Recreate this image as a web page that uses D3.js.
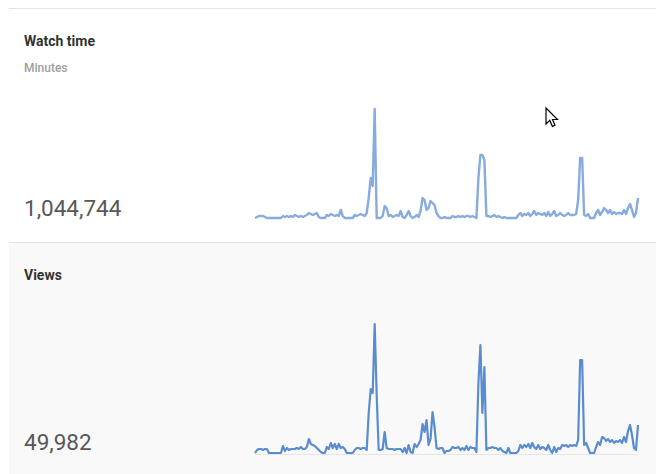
<!DOCTYPE html>
<html>
<head>
<meta charset="utf-8">
<script src="https://cdn.jsdelivr.net/npm/d3@7/dist/d3.min.js"></script>
<style>
  html, body { margin: 0; padding: 0; background: #fff; }
  svg { display: block; }
  text { font-family: Roboto, "Noto Sans", Arial, sans-serif; }
</style>
</head>
<body>
<svg id="chart" width="656" height="474"></svg>
<script>
// ---- Data (daily values; relative units) ----
const watchTimeTitle = "Watch time";
const watchTimeUnit = "Minutes";
const watchTimeTotal = "1,044,744";
const watchTimeDaily = [
  0,1,2,2,2,1,0,0,0,0,0,0,0,0,2,1,2,1,2,1,
  3,2,1,2,1,2,3,5,4,3,4,5,1,0,0,0,3,2,4,3,
  2,3,2,8,2,0,0,0,0,0,3,2,3,4,3,2,5,20,40,32,
  109,0,0,0,2,12,10,2,3,1,2,3,2,7,1,0,3,7,2,0,
  1,3,1,7,20,18,8,10,17,15,13,5,2,0,0,1,0,0,0,2,
  1,1,2,1,2,1,2,2,1,2,1,0,40,63,63,58,2,2,1,2,
  3,1,2,1,0,1,0,0,0,0,0,0,3,5,2,4,3,5,2,4,
  7,3,5,4,3,5,2,6,2,4,7,2,3,5,3,2,3,5,3,3,
  3,4,18,60,60,3,2,4,0,0,0,5,8,3,6,10,8,5,8,4,
  6,4,5,5,4,8,4,10,14,8,1,5,20
];

const viewsTitle = "Views";
const viewsTotal = "49,982";
const viewsDaily = [
  0,3,4,4,3,4,4,0,0,0,0,0,0,0,7,2,5,3,4,4,
  4,5,4,6,4,4,6,14,9,8,7,5,3,1,0,0,6,4,10,5,
  9,4,9,5,6,4,0,0,0,0,3,5,5,4,5,5,3,40,64,60,
  129,58,3,3,4,21,5,4,4,4,3,4,4,4,1,5,0,8,1,0,
  9,6,9,13,29,21,33,8,14,41,26,5,4,5,5,0,2,2,3,6,
  5,5,6,3,5,3,7,3,6,5,5,1,70,108,40,86,3,5,5,6,
  5,5,3,5,2,1,0,5,0,0,0,0,2,8,5,8,6,9,5,10,
  6,4,8,4,6,5,3,8,3,0,6,1,5,4,8,7,8,6,8,7,
  8,7,13,93,93,8,10,5,0,0,0,6,11,8,16,15,12,14,11,13,
  10,12,11,13,10,16,11,22,28,18,5,3,28
];

// ---- Drawing ----
const svg = d3.select("#chart");

// background panels
svg.append("rect").attr("x", 0).attr("y", 0).attr("width", 656).attr("height", 474).attr("fill", "#ffffff");
svg.append("rect").attr("x", 9).attr("y", 242).attr("width", 647).attr("height", 232).attr("fill", "#f9f9f9");
svg.append("line").attr("x1", 9).attr("x2", 656).attr("y1", 8.5).attr("y2", 8.5)
  .attr("stroke", "#e3e3e3").attr("stroke-width", 1);
svg.append("line").attr("x1", 9).attr("x2", 656).attr("y1", 242.5).attr("y2", 242.5)
  .attr("stroke", "#e3e3e3").attr("stroke-width", 1);

function panel(cfg) {
  const g = svg.append("g");
  g.append("text").attr("x", 24).attr("y", cfg.titleY)
    .attr("font-size", 14).attr("font-weight", 700).attr("fill", "#333333")
    .text(cfg.title);
  if (cfg.unit) {
    g.append("text").attr("x", 24).attr("y", cfg.unitY)
      .attr("font-size", 12).attr("font-weight", 500).attr("fill", "#9e9e9e")
      .text(cfg.unit);
  }
  g.append("text").attr("x", 24).attr("y", cfg.totalY)
    .attr("font-size", 22.5).attr("font-weight", 400).attr("fill", "#585858")
    .text(cfg.total);

  const x = d3.scaleLinear().domain([0, cfg.data.length - 1]).range([255, 638]);
  const y = d3.scaleLinear().domain([0, d3.max(cfg.data)]).range([cfg.y0, cfg.y1]);

  if (cfg.baseline) {
    g.append("line").attr("x1", 255).attr("x2", 638).attr("y1", cfg.y0 + 1.5).attr("y2", cfg.y0 + 1.5)
      .attr("stroke", "#e6e6e6").attr("stroke-width", 1);
  }

  const line = d3.line().x((d, i) => x(i)).y(d => y(d));
  g.append("path").datum(cfg.data)
    .attr("d", line)
    .attr("fill", "none")
    .attr("stroke", cfg.color)
    .attr("stroke-width", cfg.width)
    .attr("stroke-linejoin", "round");
}

panel({
  title: watchTimeTitle, unit: watchTimeUnit, total: watchTimeTotal,
  titleY: 46, unitY: 72, totalY: 216,
  data: watchTimeDaily, y0: 218, y1: 109, color: "#87abdf", width: 2.4, baseline: false
});

panel({
  title: viewsTitle, total: viewsTotal,
  titleY: 280, totalY: 450,
  data: viewsDaily, y0: 453, y1: 324, color: "#5a8cd0", width: 2.2, baseline: true
});

// mouse pointer seen in the screenshot
svg.append("path")
  .attr("transform", "translate(546,108)")
  .attr("d", "M0,0 L0,16 L3.8,12.4 L6.4,18.4 L9,17.3 L6.5,11.5 L11.5,11.5 Z")
  .attr("fill", "#ffffff").attr("stroke", "#000000").attr("stroke-width", 1.2)
  .attr("stroke-linejoin", "miter");
</script>
</body>
</html>
